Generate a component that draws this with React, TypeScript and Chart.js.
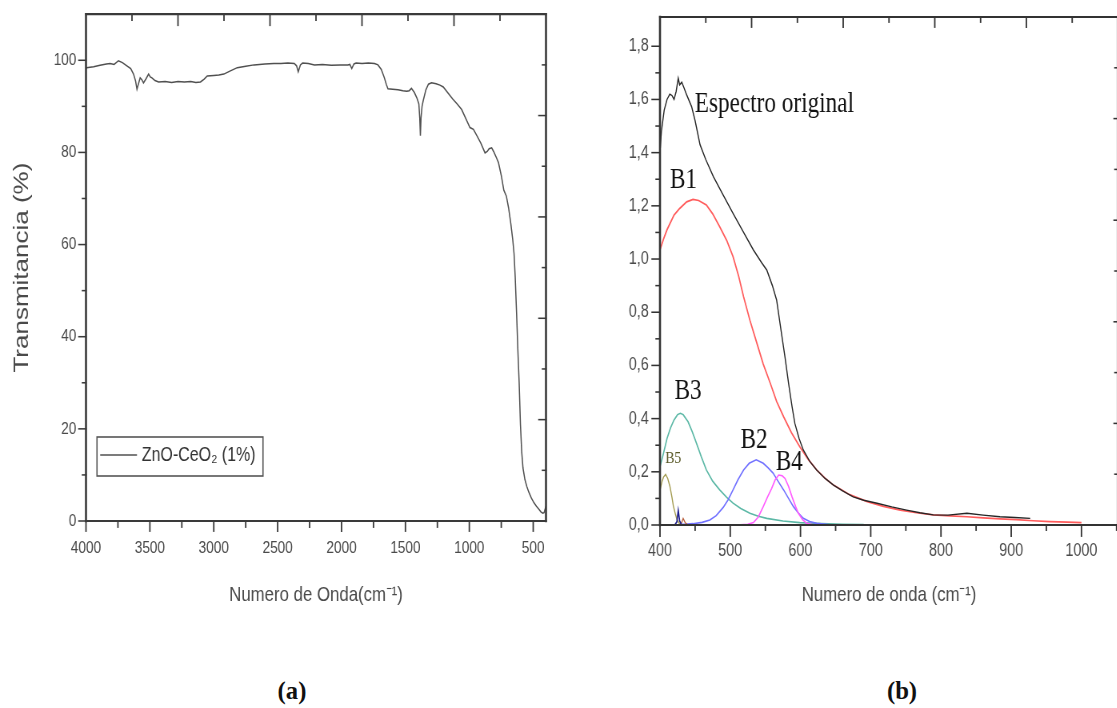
import React, { useEffect, useRef } from "react";
import { Chart, registerables } from "chart.js";

Chart.register(...registerables);

// The original figure is squeezed horizontally; charts are drawn wider and scaled back.
const SQ = 0.8;
const SANS = "'Liberation Sans', Arial, sans-serif";
const SERIF = "'Liberation Serif', 'Times New Roman', serif";

// ---------- Panel (a): FTIR ----------
const ftirLabel = "ZnO-CeO₂ (1%)";
const ftirWavenumber = [
  4000, 3995, 3940, 3890, 3840, 3811, 3780, 3746, 3715, 3680, 3650, 3628, 3612, 3601, 3588, 3576, 3563, 3550,
  3530, 3510, 3497, 3484, 3460, 3432, 3380, 3330, 3280, 3230, 3180, 3140, 3104, 3075, 3051, 3000, 2960, 2921,
  2870, 2816, 2750, 2685, 2600, 2530, 2475, 2420, 2370, 2352, 2339, 2322, 2305, 2260, 2212, 2150, 2080, 2010,
  1951, 1935, 1920, 1903, 1886, 1840, 1790, 1742, 1715, 1689, 1665, 1650, 1637, 1600, 1558, 1520, 1490, 1470,
  1453, 1430, 1410, 1395, 1388, 1383, 1378, 1370, 1361, 1340, 1320, 1296, 1260, 1230, 1204, 1170, 1130, 1095,
  1060, 1030, 995, 968, 940, 910, 877, 860, 845, 825, 810, 790, 772, 750, 730, 710, 693, 675, 660, 650, 641,
  630, 620, 610, 600, 590, 580, 565, 550, 535, 515, 495, 475, 457, 440, 425, 415, 408, 400,
];
const ftirTransmittance = [
  98.2, 98.4, 98.6, 98.9, 99.2, 99.3, 99.1, 99.9, 99.5, 98.8, 98.2, 97.0, 95.5, 93.7, 95.0, 96.2, 95.8, 95.1,
  96.0, 97.0, 96.4, 96.2, 95.6, 95.3, 95.4, 95.2, 95.4, 95.3, 95.4, 95.2, 95.3, 95.9, 96.6, 96.7, 96.8, 97.0,
  97.7, 98.4, 98.7, 99.0, 99.2, 99.3, 99.3, 99.4, 99.3, 98.8, 97.5, 99.0, 99.4, 99.3, 99.0, 99.1, 98.9, 99.0,
  99.0, 99.1, 98.2, 99.2, 99.4, 99.3, 99.4, 99.3, 99.0, 98.0, 96.2, 94.8, 93.8, 93.7, 93.6, 93.4, 93.3, 93.4,
  93.9, 93.0, 91.8, 90.5, 87.5, 83.6, 87.5, 90.0, 91.2, 93.6, 94.8, 95.1, 94.9, 94.6, 94.2, 93.0, 91.6, 90.5,
  89.3, 87.5, 85.4, 85.0, 83.6, 82.0, 79.9, 80.2, 80.8, 81.0, 80.2, 79.0, 77.8, 75.0, 71.8, 70.5, 68.0, 64.5,
  61.0, 58.0, 53.0, 45.0, 37.0, 30.0, 21.0, 15.0, 11.5, 9.0, 7.5, 6.3, 5.0, 4.0, 3.2, 2.6, 2.0, 1.7, 1.8, 2.5,
  3.2,
];
const xTicksA = [4000, 3500, 3000, 2500, 2000, 1500, 1000, 500];
const xMinorA = [3750, 3250, 2750, 2250, 1750, 1250, 750];
const yTicksA = [0, 20, 40, 60, 80, 100];
const yMinorA = [10, 30, 50, 70, 90];

// ---------- Panel (b): UV-vis deconvolution ----------
const origX = [400, 402, 406, 410, 414, 417, 420, 423, 426, 428, 431, 434, 438, 445, 450, 457, 465, 476, 490, 504, 518, 533, 545, 552, 560, 566, 573, 578, 583, 588, 592, 598, 604, 613, 623, 635, 647, 660, 675, 690, 709, 730, 751, 770, 789, 810, 837, 860, 884, 905, 927];
const origY = [1.40, 1.48, 1.56, 1.60, 1.62, 1.615, 1.60, 1.63, 1.68, 1.655, 1.665, 1.645, 1.617, 1.573, 1.52, 1.43, 1.375, 1.31, 1.24, 1.172, 1.105, 1.034, 0.985, 0.959, 0.90, 0.846, 0.72, 0.63, 0.533, 0.445, 0.382, 0.325, 0.282, 0.24, 0.207, 0.175, 0.150, 0.128, 0.106, 0.093, 0.082, 0.068, 0.056, 0.046, 0.038, 0.037, 0.044, 0.037, 0.031, 0.028, 0.025];
const b1X = [400, 405, 410, 420, 428, 438, 447, 455, 466, 475, 485, 495, 504, 512, 519, 528, 538, 547, 557, 566, 576, 587, 599, 611, 623, 635, 647, 670, 695, 718, 742, 765, 789, 813, 837, 860, 884, 907, 931, 955, 980, 1000];
const b1Y = [1.034, 1.075, 1.11, 1.165, 1.19, 1.215, 1.224, 1.22, 1.203, 1.17, 1.121, 1.07, 1.009, 0.935, 0.858, 0.77, 0.683, 0.605, 0.533, 0.465, 0.407, 0.348, 0.294, 0.247, 0.207, 0.176, 0.150, 0.114, 0.088, 0.070, 0.056, 0.046, 0.038, 0.034, 0.031, 0.027, 0.023, 0.020, 0.016, 0.013, 0.011, 0.009];
const b2X = [400, 430, 447, 460, 471, 480, 490, 497, 504, 511, 519, 527, 537, 547, 554, 561, 568, 576, 583, 590, 597, 604, 613, 623, 640, 660, 690];
const b2Y = [0, 0.002, 0.005, 0.01, 0.019, 0.035, 0.066, 0.095, 0.132, 0.17, 0.207, 0.232, 0.245, 0.232, 0.215, 0.195, 0.165, 0.132, 0.10, 0.069, 0.045, 0.025, 0.013, 0.006, 0.002, 0.001, 0];
const b3X = [400, 405, 410, 415, 420, 425, 429, 433, 440, 446, 452, 459, 466, 475, 485, 495, 504, 515, 528, 540, 552, 575, 599, 630, 660, 690];
const b3Y = [0.219, 0.27, 0.325, 0.365, 0.395, 0.415, 0.42, 0.415, 0.388, 0.35, 0.307, 0.255, 0.207, 0.165, 0.132, 0.104, 0.082, 0.062, 0.044, 0.033, 0.025, 0.015, 0.009, 0.005, 0.003, 0.002];
const b4X = [509, 525, 533, 540, 547, 553, 559, 564, 569, 574, 578, 583, 588, 593, 597, 603, 609, 618, 630];
const b4Y = [0, 0.003, 0.009, 0.03, 0.069, 0.105, 0.138, 0.17, 0.188, 0.185, 0.175, 0.145, 0.106, 0.07, 0.044, 0.02, 0.006, 0.001, 0];
const b5X = [400, 403, 405, 408, 411, 414, 417, 419, 422, 424, 427, 430, 435];
const b5Y = [0.13, 0.165, 0.18, 0.19, 0.175, 0.147, 0.105, 0.072, 0.04, 0.022, 0.008, 0.002, 0];
const b6X = [400, 421, 424, 426, 428, 431, 500, 600, 690];
const b6Y = [0, 0, 0.012, 0.055, 0.015, 0, 0, 0, 0];
const b7X = [428, 431, 433, 436, 440];
const b7Y = [0, 0.01, 0.025, 0.008, 0];

const bandNames = ["Espectro original", "B1", "B2", "B3", "B4", "B5"];
const xTicksB = [400, 500, 600, 700, 800, 900, 1000];
const xMinorB = [450, 550, 650, 750, 850, 950, 1050];
const yTicksB = [0, 0.2, 0.4, 0.6, 0.8, 1.0, 1.2, 1.4, 1.6, 1.8];
const yTickLabelsB = ["0,0", "0,2", "0,4", "0,6", "0,8", "1,0", "1,2", "1,4", "1,6", "1,8"];
const yMinorB = [0.1, 0.3, 0.5, 0.7, 0.9, 1.1, 1.3, 1.5, 1.7];

const zip = (xs: number[], ys: number[]) => xs.map((x, i) => ({ x, y: ys[i] }));

function seg(ctx: CanvasRenderingContext2D, x1: number, y1: number, x2: number, y2: number) {
  ctx.beginPath();
  ctx.moveTo(x1, y1);
  ctx.lineTo(x2, y2);
  ctx.stroke();
}

type FrameOpts = {
  id: string;
  color: string;
  vWidth: number;
  hWidth: number;
  xMajor: number[];
  xMinor: number[];
  yMajor: number[];
  yMinor: number[];
  bottomMajorLen: number;
  bottomMinorLen: number;
  leftMajorLen: number;
  leftMinorLen: number;
  topDivs: number;
  topMajorLen: number;
  topMinorLen: number;
  rightDivs: number;
  rightMajorLen: number;
  rightMinorLen: number;
  extra?: (chart: any, ctx: CanvasRenderingContext2D) => void;
};

function framePlugin(o: FrameOpts) {
  return {
    id: o.id,
    afterDraw(chart: any) {
      const ctx: CanvasRenderingContext2D = chart.ctx;
      const { left, right, top, bottom } = chart.chartArea;
      const xs = chart.scales.x;
      const ys = chart.scales.y;
      ctx.save();
      ctx.strokeStyle = o.color;
      ctx.lineCap = "square";
      // ticks on horizontal axes (vertical strokes)
      ctx.lineWidth = o.vWidth * 0.7;
      o.xMajor.forEach((v) => {
        const p = xs.getPixelForValue(v);
        seg(ctx, p, bottom, p, bottom + o.bottomMajorLen);
      });
      o.xMinor.forEach((v) => {
        const p = xs.getPixelForValue(v);
        if (p > left + 1 && p < right - 1) seg(ctx, p, bottom, p, bottom + o.bottomMinorLen);
      });
      for (let i = 1; i < o.topDivs; i++) {
        const p = left + ((right - left) * i) / o.topDivs;
        seg(ctx, p, top, p, top + (i % 2 === 0 ? o.topMajorLen : o.topMinorLen));
      }
      // ticks on vertical axes (horizontal strokes)
      ctx.lineWidth = o.hWidth * 0.7;
      o.yMajor.forEach((v) => {
        const p = ys.getPixelForValue(v);
        seg(ctx, left - o.leftMajorLen, p, left, p);
      });
      o.yMinor.forEach((v) => {
        const p = ys.getPixelForValue(v);
        seg(ctx, left - o.leftMinorLen, p, left, p);
      });
      for (let i = 1; i < o.rightDivs; i++) {
        const p = bottom - ((bottom - top) * i) / o.rightDivs;
        seg(ctx, right - (i % 2 === 0 ? o.rightMajorLen : o.rightMinorLen), p, right, p);
      }
      // frame
      ctx.lineWidth = o.vWidth;
      seg(ctx, left, top, left, bottom);
      seg(ctx, right, top, right, bottom);
      ctx.lineWidth = o.hWidth;
      seg(ctx, left, top, right, top);
      seg(ctx, left, bottom, right, bottom);
      ctx.restore();
      if (o.extra) {
        ctx.save();
        o.extra(chart, ctx);
        ctx.restore();
      }
    },
  };
}

const axisTextColor = "#4a4a4a";

function configA(): any {
  const legendExtra = (chart: any, ctx: CanvasRenderingContext2D) => {
    const { left, bottom } = chart.chartArea;
    const bx = left + 13.75;
    const bw = 207.5;
    const bh = 39;
    const by = bottom - 45 - bh;
    ctx.strokeStyle = "#555";
    ctx.lineWidth = 1.6;
    ctx.strokeRect(bx, by, bw, bh);
    const ds = chart.data.datasets[0];
    ctx.strokeStyle = ds.borderColor;
    ctx.lineWidth = 1.6;
    seg(ctx, bx + 4, by + 18, bx + 50, by + 18);
    ctx.fillStyle = "#333";
    ctx.font = `20px ${SANS}`;
    ctx.textBaseline = "middle";
    ctx.textAlign = "left";
    ctx.fillText(ds.label, bx + 56, by + 18);
  };
  return {
    type: "line",
    data: {
      datasets: [
        {
          label: ftirLabel,
          data: zip(ftirWavenumber, ftirTransmittance),
          borderColor: "#505050",
          borderWidth: 1.5,
          pointRadius: 0,
          fill: false,
          tension: 0,
        },
      ],
    },
    options: {
      responsive: false,
      animation: false,
      events: [],
      layout: { padding: { left: 0, top: 14, right: 17.5, bottom: 0 } },
      plugins: { legend: { display: false }, tooltip: { enabled: false } },
      scales: {
        x: {
          type: "linear",
          reverse: true,
          min: 400,
          max: 4000,
          afterBuildTicks: (s: any) => {
            s.ticks = xTicksA.map((v) => ({ value: v }));
          },
          afterFit: (s: any) => {
            s.height = 119;
          },
          grid: { display: false, drawTicks: true, tickLength: 12 },
          border: { display: false },
          ticks: {
            autoSkip: false,
            maxRotation: 0,
            padding: 5,
            color: axisTextColor,
            font: { family: SANS, size: 17 },
            callback: (v: any) => String(v),
          },
          title: {
            display: true,
            text: "Numero de Onda(cm⁻¹)",
            color: axisTextColor,
            font: { family: SANS, size: 21 },
            padding: { top: 0, bottom: 32 },
          },
        },
        y: {
          type: "linear",
          min: 0,
          max: 110,
          afterBuildTicks: (s: any) => {
            s.ticks = yTicksA.map((v) => ({ value: v }));
          },
          afterFit: (s: any) => {
            s.width = 107.5;
          },
          grid: { display: false, drawTicks: true, tickLength: 8 },
          border: { display: false },
          ticks: {
            autoSkip: false,
            padding: 4,
            color: axisTextColor,
            font: { family: SANS, size: 17 },
            callback: (v: any) => String(v),
          },
          title: {
            display: true,
            text: "Transmitancia (%)",
            color: axisTextColor,
            font: { family: SANS, size: 26 },
            padding: { top: 12, bottom: 0 },
          },
        },
      },
    },
    plugins: [
      framePlugin({
        id: "frameA",
        color: "#3a3a3a",
        vWidth: 2.6,
        hWidth: 2.2,
        xMajor: xTicksA,
        xMinor: xMinorA,
        yMajor: yTicksA,
        yMinor: yMinorA,
        bottomMajorLen: 10,
        bottomMinorLen: 6,
        leftMajorLen: 9,
        leftMinorLen: 4.5,
        topDivs: 10,
        topMajorLen: 11,
        topMinorLen: 6,
        rightDivs: 10,
        rightMajorLen: 9,
        rightMinorLen: 4.5,
        extra: legendExtra,
      }),
    ],
  };
}

function configB(): any {
  const labelSpots = [
    { text: bandNames[0], x: 449.6, y: 1.554, size: 29, align: "left", color: "#111" },
    { text: bandNames[1], x: 433.5, y: 1.266, size: 29, align: "center", color: "#111" },
    { text: bandNames[3], x: 440, y: 0.474, size: 29, align: "center", color: "#111" },
    { text: bandNames[2], x: 534, y: 0.289, size: 29, align: "center", color: "#111" },
    { text: bandNames[4], x: 584, y: 0.207, size: 29, align: "center", color: "#111" },
    { text: bandNames[5], x: 419, y: 0.233, size: 17, align: "center", color: "#5a5a28" },
  ];
  const labelExtra = (chart: any, ctx: CanvasRenderingContext2D) => {
    const xs = chart.scales.x;
    const ys = chart.scales.y;
    ctx.textBaseline = "alphabetic";
    labelSpots.forEach((l) => {
      ctx.font = `${l.size}px ${SERIF}`;
      ctx.fillStyle = l.color;
      ctx.textAlign = l.align as CanvasTextAlign;
      ctx.fillText(l.text, xs.getPixelForValue(l.x), ys.getPixelForValue(l.y));
    });
  };
  const line = (label: string, xs: number[], ys: number[], color: string, width: number) => ({
    label,
    data: zip(xs, ys),
    borderColor: color,
    borderWidth: width,
    pointRadius: 0,
    fill: false,
    tension: 0,
  });
  return {
    type: "line",
    data: {
      datasets: [
        line("B6", b6X, b6Y, "#1c1c8c", 1.6),
        line("B7", b7X, b7Y, "#b8603c", 1.3),
        line(bandNames[0], origX, origY, "#262626", 1.4),
        line(bandNames[4], b4X, b4Y, "#ff5cff", 1.6),
        line(bandNames[2], b2X, b2Y, "#7272ff", 1.6),
        line(bandNames[3], b3X, b3Y, "#5cb8a6", 1.6),
        line(bandNames[5], b5X, b5Y, "#a49c52", 1.4),
        line(bandNames[1], b1X, b1Y, "#ff5c5c", 1.7),
      ],
    },
    options: {
      responsive: false,
      animation: false,
      events: [],
      layout: { padding: { left: 0, top: 17, right: 14.5, bottom: 0 } },
      plugins: { legend: { display: false }, tooltip: { enabled: false } },
      scales: {
        x: {
          type: "linear",
          min: 400,
          max: 1052,
          afterBuildTicks: (s: any) => {
            s.ticks = xTicksB.map((v) => ({ value: v }));
          },
          afterFit: (s: any) => {
            s.height = 115;
          },
          grid: { display: false, drawTicks: true, tickLength: 11 },
          border: { display: false },
          ticks: {
            autoSkip: false,
            maxRotation: 0,
            padding: 4,
            color: axisTextColor,
            font: { family: SANS, size: 18 },
            callback: (v: any) => String(v),
          },
          title: {
            display: true,
            text: "Numero de onda (cm⁻¹)",
            color: axisTextColor,
            font: { family: SANS, size: 21 },
            padding: { top: 0, bottom: 32 },
          },
        },
        y: {
          type: "linear",
          min: 0,
          max: 1.91,
          afterBuildTicks: (s: any) => {
            s.ticks = yTicksB.map((v) => ({ value: v }));
          },
          afterFit: (s: any) => {
            s.width = 125;
          },
          grid: { display: false, drawTicks: true, tickLength: 9 },
          border: { display: false },
          ticks: {
            autoSkip: false,
            padding: 5,
            color: axisTextColor,
            font: { family: SANS, size: 18 },
            callback: (_v: any, i: number) => yTickLabelsB[i],
          },
          title: { display: false },
        },
      },
    },
    plugins: [
      framePlugin({
        id: "frameB",
        color: "#333",
        vWidth: 2.6,
        hWidth: 2.2,
        xMajor: xTicksB,
        xMinor: xMinorB,
        yMajor: yTicksB,
        yMinor: yMinorB,
        bottomMajorLen: 11,
        bottomMinorLen: 5,
        leftMajorLen: 10,
        leftMinorLen: 5,
        topDivs: 10,
        topMajorLen: 10,
        topMinorLen: 5,
        rightDivs: 10,
        rightMajorLen: 5,
        rightMinorLen: 4,
        extra: labelExtra,
      }),
    ],
  };
}

export default function App() {
  const refA = useRef<HTMLCanvasElement>(null);
  const refB = useRef<HTMLCanvasElement>(null);

  useEffect(() => {
    const a = new Chart(refA.current as HTMLCanvasElement, configA());
    const b = new Chart(refB.current as HTMLCanvasElement, configB());
    return () => {
      a.destroy();
      b.destroy();
    };
  }, []);

  const canvasStyle = (left: number): React.CSSProperties => ({
    position: "absolute",
    left,
    top: 0,
    transform: `scaleX(${SQ})`,
    transformOrigin: "0 0",
  });

  const panelLabel = (cx: number): React.CSSProperties => ({
    position: "absolute",
    left: cx,
    top: 691,
    transform: "translate(-50%, -50%) scaleX(0.95)",
    font: `bold 26px ${SERIF}`,
    color: "#111",
    whiteSpace: "nowrap",
    lineHeight: "30px",
  });

  return (
    <div
      style={{
        position: "fixed",
        left: 0,
        top: 0,
        width: 1117,
        height: 708,
        overflow: "hidden",
        background: "#fff",
      }}
    >
      <canvas ref={refA} width={700} height={640} style={canvasStyle(0)} />
      <canvas ref={refB} width={712} height={640} style={canvasStyle(560)} />
      <div style={panelLabel(292)}>(a)</div>
      <div style={panelLabel(902)}>(b)</div>
    </div>
  );
}
